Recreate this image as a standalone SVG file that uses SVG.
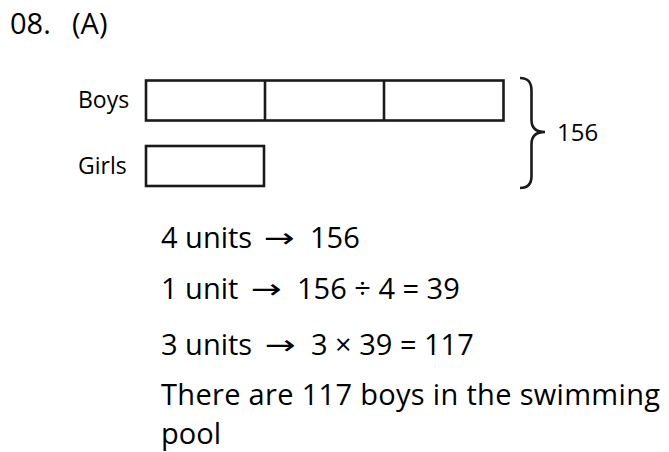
<svg xmlns="http://www.w3.org/2000/svg" width="669" height="452" viewBox="0 0 669 452">
  <style>
    .t { font-family: "Open Sans", "Noto Sans", "DejaVu Sans", sans-serif; fill: #000; }
    .big { font-size: 29px; }
    .lbl { font-size: 23px; }
    .arr { font-family: "DejaVu Sans", sans-serif; font-size: 27px; fill: #000; }
    .box { fill: #fff; stroke: #1a1a1a; stroke-width: 2.6; }
    .ln { fill: none; stroke: #1a1a1a; stroke-width: 2.6; }
  </style>
  <rect width="669" height="452" fill="#fff"/>

  <g id="title">
    <text class="t big" x="10" y="34">08.</text>
    <text class="t big" x="72" y="34">(A)</text>
  </g>

  <g id="boys">
    <text class="t lbl" x="78" y="108">Boys</text>
    <rect class="box" x="146" y="80.5" width="357.5" height="40"/>
    <line class="ln" x1="265" y1="80.5" x2="265" y2="120.5"/>
    <line class="ln" x1="384" y1="80.5" x2="384" y2="120.5"/>
  </g>

  <g id="girls">
    <text class="t lbl" x="78" y="174">Girls</text>
    <rect class="box" x="146" y="146" width="118" height="40"/>
  </g>

  <g id="connectors">
    <path class="ln" d="M520,78 C528,78 531.5,82 531.5,91 L531.5,120 C531.5,128 536,132 545,132 C536,132 531.5,136 531.5,144 L531.5,176 C531.5,184 528,188 520,188"/>
  </g>

  <g id="total">
    <text class="t" font-size="24" x="557" y="141">156</text>
  </g>

  <g id="working">
    <text class="t big" x="161" y="248">4 units</text>
    <text class="arr" x="264" y="247" textLength="31" lengthAdjust="spacingAndGlyphs">→</text>
    <text class="t big" x="310" y="248">156</text>

    <text class="t big" x="161" y="299">1 unit</text>
    <text class="arr" x="251" y="298" textLength="31" lengthAdjust="spacingAndGlyphs">→</text>
    <text class="t big" x="297" y="299">156 ÷ 4 = 39</text>

    <text class="t big" x="161" y="355">3 units</text>
    <text class="arr" x="265" y="354" textLength="31" lengthAdjust="spacingAndGlyphs">→</text>
    <text class="t big" x="311" y="355">3 × 39 = 117</text>

    <text class="t big" x="161" y="405" textLength="499" lengthAdjust="spacing">There are 117 boys in the swimming</text>
    <text class="t big" x="161" y="444">pool</text>
  </g>
</svg>
